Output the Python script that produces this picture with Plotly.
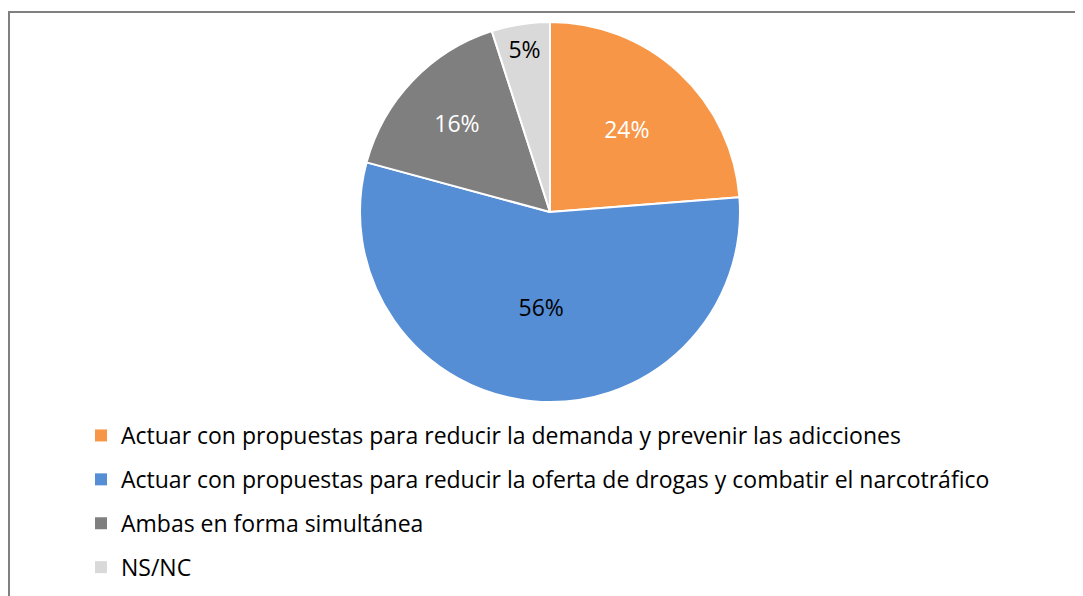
import plotly.graph_objects as go

# Data
labels = [
    "Actuar con propuestas para reducir la demanda y prevenir las adicciones",
    "Actuar con propuestas para reducir la oferta de drogas y combatir el narcotráfico",
    "Ambas en forma simultánea",
    "NS/NC",
]
values = [24, 56, 16, 5]
colors = ["#F79646", "#558ED5", "#7F7F7F", "#D9D9D9"]
text_colors = ["white", "black", "white", "black"]

W, H = 1083, 596
FONT = "Open Sans, Noto Sans, sans-serif"

fig = go.Figure()

fig.add_trace(go.Pie(
    labels=labels,
    values=values,
    sort=False,
    direction="clockwise",
    marker=dict(colors=colors, line=dict(color="white", width=2)),
    texttemplate="%{value}%",
    textposition="inside",
    insidetextorientation="horizontal",
    textfont=dict(size=23, color=text_colors, family=FONT),
    domain=dict(x=[352 / W, 732 / W], y=[1 - 394 / H, 1 - 14 / H]),
    showlegend=False,
    hoverinfo="label+percent",
))

# legend entries (one group each so spacing can be set)
for i, (name, c) in enumerate(zip(labels, colors)):
    fig.add_trace(go.Scatter(
        x=[None], y=[None],
        mode="markers",
        name=name,
        legendgroup=str(i),
        marker=dict(symbol="square", size=12, color=c),
    ))

fig.update_layout(
    width=W, height=H,
    margin=dict(l=0, r=0, t=0, b=0),
    paper_bgcolor="white",
    plot_bgcolor="white",
    uniformtext=dict(minsize=22, mode="show"),
    xaxis=dict(visible=False),
    yaxis=dict(visible=False),
    legend=dict(
        x=73 / W, y=1 - 406 / H,
        xanchor="left", yanchor="top",
        font=dict(size=23, color="#000000", family=FONT),
        tracegroupgap=11,
        itemwidth=30,
        bgcolor="rgba(0,0,0,0)",
    ),
    shapes=[dict(
        type="rect", xref="paper", yref="paper",
        x0=1 / W, x1=1.05, y0=-0.05, y1=1 - 4 / H,
        line=dict(color="#808080", width=2),
    )],
)

fig.write_html("out.html")
